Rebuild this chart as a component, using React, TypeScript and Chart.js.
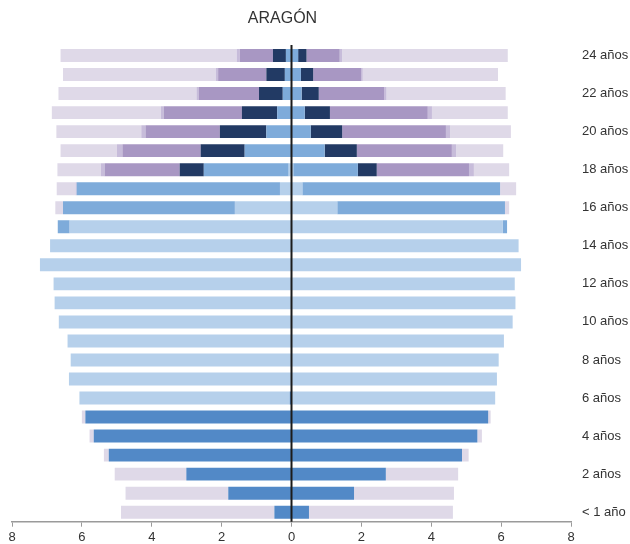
import React, { useEffect, useRef } from "react";
import { Chart, registerables } from "chart.js";

Chart.register(...registerables);

const ageLabels = [
  "< 1 año", "1 año", "2 años", "3 años", "4 años", "5 años", "6 años", "7 años", "8 años",
  "9 años", "10 años", "11 años", "12 años", "13 años", "14 años", "15 años", "16 años",
  "17 años", "18 años", "19 años", "20 años", "21 años", "22 años", "23 años", "24 años",
];

// Left side (hombres) values, ages 0..24
const infantilM = [0.49, 1.81, 3.01, 5.23, 5.66, 5.9, 0.05, 0, 0, 0, 0, 0, 0, 0, 0, 0, 0, 0, 0, 0, 0, 0, 0, 0, 0];
const primariaM = [0, 0, 0, 0, 0, 0, 6.02, 6.37, 6.32, 6.41, 6.66, 6.78, 6.81, 7.2, 6.91, 6.35, 1.62, 0.33, 0.08, 0, 0, 0, 0, 0, 0];
const esoM = [0, 0, 0, 0, 0, 0, 0, 0, 0, 0, 0, 0, 0, 0, 0, 0.34, 4.92, 5.82, 2.43, 1.34, 0.72, 0.41, 0.25, 0.19, 0.16];
const bachM = [0, 0, 0, 0, 0, 0, 0, 0, 0, 0, 0, 0, 0, 0, 0, 0, 0, 0, 0.69, 1.26, 1.33, 1.01, 0.68, 0.53, 0.37];
const supM = [0, 0, 0, 0, 0, 0, 0, 0, 0, 0, 0, 0, 0, 0, 0, 0, 0, 0, 2.15, 2.24, 2.13, 2.24, 1.73, 1.38, 0.95];
const otrosM = [0, 0, 0, 0, 0, 0, 0, 0, 0, 0, 0, 0, 0, 0, 0, 0, 0, 0.03, 0.11, 0.16, 0.12, 0.08, 0.06, 0.07, 0.09];
const noEstM = [4.39, 2.94, 2.05, 0.14, 0.12, 0.1, 0, 0, 0, 0, 0, 0, 0, 0, 0, 0, 0.22, 0.54, 1.24, 1.61, 2.43, 3.12, 3.95, 4.37, 5.04];

// Right side (mujeres) values, ages 0..24
const infantilF = [0.5, 1.79, 2.7, 4.88, 5.32, 5.63, 0, 0, 0, 0, 0, 0, 0, 0, 0, 0, 0, 0, 0, 0, 0, 0, 0, 0, 0];
const primariaF = [0, 0, 0, 0, 0, 0, 5.83, 5.88, 5.93, 6.08, 6.33, 6.41, 6.39, 6.57, 6.5, 6.05, 1.31, 0.31, 0.05, 0, 0, 0, 0, 0, 0];
const esoF = [0, 0, 0, 0, 0, 0, 0, 0, 0, 0, 0, 0, 0, 0, 0, 0.12, 4.8, 5.66, 1.85, 0.95, 0.55, 0.38, 0.29, 0.27, 0.19];
const bachF = [0, 0, 0, 0, 0, 0, 0, 0, 0, 0, 0, 0, 0, 0, 0, 0, 0, 0, 0.54, 0.92, 0.9, 0.72, 0.49, 0.35, 0.24];
const supF = [0, 0, 0, 0, 0, 0, 0, 0, 0, 0, 0, 0, 0, 0, 0, 0, 0, 0, 2.64, 2.72, 2.97, 2.8, 1.87, 1.37, 0.95];
const otrosF = [0, 0, 0, 0, 0, 0, 0, 0, 0, 0, 0, 0, 0, 0, 0, 0, 0, 0, 0.14, 0.12, 0.12, 0.12, 0.07, 0.05, 0.07];
const noEstF = [4.12, 2.86, 2.07, 0.19, 0.13, 0.07, 0, 0, 0, 0, 0, 0, 0, 0, 0, 0, 0.12, 0.46, 1.01, 1.35, 1.74, 2.17, 3.41, 3.87, 4.74];

const xTicks = [-8, -6, -4, -2, 0, 2, 4, 6, 8];
const titleText = "ARAGÓN";

const FONT = "'Liberation Sans', Arial, sans-serif";

const seriesDefs = [
  { m: infantilM, f: infantilF, color: "#5289C7" },
  { m: primariaM, f: primariaF, color: "#B6D0EB" },
  { m: esoM, f: esoF, color: "#7EABDA" },
  { m: bachM, f: bachF, color: "#223A64" },
  { m: supM, f: supF, color: "#A897C3" },
  { m: otrosM, f: otrosF, color: "#C7BCDA" },
  { m: noEstM, f: noEstF, color: "#DFD9E8" },
];

export default function App() {
  const ref = useRef<HTMLCanvasElement | null>(null);

  useEffect(() => {
    if (!ref.current) return;
    const datasets: any[] = [];
    seriesDefs.forEach((s) => {
      datasets.push({
        data: s.m.map((v) => -v),
        backgroundColor: s.color,
        stack: "a",
        borderWidth: 0,
      });
      datasets.push({
        data: s.f.slice(),
        backgroundColor: s.color,
        stack: "a",
        borderWidth: 0,
      });
    });

    const overlay = {
      id: "overlay",
      afterDatasetsDraw(chart: any) {
        const { ctx, chartArea, scales } = chart;
        const x0 = scales.x.getPixelForValue(0);
        ctx.save();
        ctx.strokeStyle = "#1c1c1c";
        ctx.lineWidth = 2;
        ctx.beginPath();
        ctx.moveTo(x0, chartArea.top - 1);
        ctx.lineTo(x0, chartArea.bottom);
        ctx.stroke();
        ctx.restore();
      },
      afterDraw(chart: any) {
        const { ctx } = chart;
        ctx.save();
        ctx.fillStyle = "#333333";
        ctx.font = "16px " + FONT;
        ctx.textAlign = "center";
        ctx.textBaseline = "alphabetic";
        ctx.fillText(titleText, 282.5, 23);
        ctx.restore();
      },
    };

    const chart = new Chart(ref.current, {
      type: "bar",
      data: { labels: ageLabels, datasets },
      options: {
        indexAxis: "y",
        responsive: false,
        animation: false,
        layout: { padding: { top: 46, left: 12, right: 0, bottom: 0 } },
        datasets: {
          bar: { categoryPercentage: 1, barPercentage: 0.68 },
        },
        plugins: {
          legend: { display: false },
          title: { display: false },
          tooltip: { enabled: false },
        },
        scales: {
          x: {
            type: "linear",
            min: -8,
            max: 8,
            stacked: true,
            afterBuildTicks(scale: any) {
              scale.ticks = xTicks.map((v) => ({ value: v }));
            },
            afterFit(scale: any) {
              scale.height = 22.3;
            },
            ticks: {
              callback: (v: any) => String(Math.abs(Number(v))),
              color: "#333333",
              font: { family: FONT, size: 13 },
              padding: 3,
            },
            grid: {
              drawOnChartArea: false,
              drawTicks: true,
              tickLength: 5,
              tickColor: "#9a9a9a",
              tickWidth: 1,
            },
            border: { display: true, color: "#9a9a9a", width: 1.5 },
          },
          y: {
            type: "category",
            position: "right",
            stacked: true,
            reverse: true,
            afterFit(scale: any) {
              scale.width = 59;
            },
            ticks: {
              autoSkip: false,
              callback: (_v: any, i: number) => (i % 2 === 0 ? ageLabels[i] : ""),
              color: "#333333",
              font: { family: FONT, size: 13 },
              padding: 11,
              crossAlign: "near",
            },
            grid: { display: false, drawTicks: false },
            border: { display: false },
          },
        },
      },
      plugins: [overlay],
    });
    return () => chart.destroy();
  }, []);

  return (
    <div style={{ position: "absolute", left: 0, top: 0, width: 630, height: 544, background: "#fff" }}>
      <canvas ref={ref} width={630} height={544} style={{ display: "block" }} />
    </div>
  );
}
